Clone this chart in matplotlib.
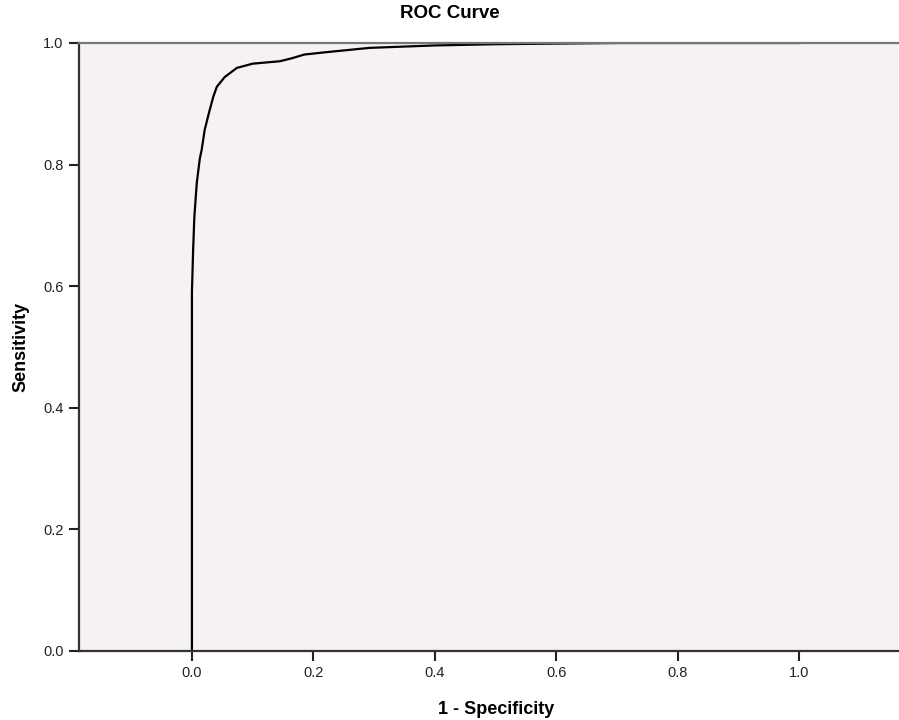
import matplotlib
matplotlib.use('Agg')
import matplotlib.pyplot as plt

# ---------------------------------------------------------------------------
# Data
# ---------------------------------------------------------------------------

fpr = [0.0, 0.0, 0.002, 0.004, 0.008, 0.013, 0.016, 0.021, 0.028, 0.035,
       0.041, 0.054, 0.074, 0.100, 0.145, 0.165, 0.185, 0.222, 0.293, 0.400,
       0.500, 0.700, 1.000]
tpr = [0.0, 0.59, 0.66, 0.714, 0.77, 0.81, 0.824, 0.857, 0.885, 0.911,
       0.928, 0.944, 0.959, 0.966, 0.970, 0.975, 0.981, 0.985, 0.992, 0.996,
       0.998, 1.000, 1.000]

x_ticks = [0.0, 0.2, 0.4, 0.6, 0.8, 1.0]
y_ticks = [0.0, 0.2, 0.4, 0.6, 0.8, 1.0]

BG = '#F5F1F5'
FONT = 'Liberation Sans'

plt.rcParams['font.family'] = [FONT, 'DejaVu Sans']

fig = plt.figure(figsize=(8.99, 7.2), dpi=100)
ax = fig.add_axes([79 / 899, 1 - 651 / 720, 819 / 899, 608 / 720])
ax.set_facecolor(BG)

ax.plot(fpr, tpr, color='black', linewidth=1.6, solid_joinstyle='round')

ax.set_xlim(-0.186, 1.163)
ax.set_ylim(0.0, 1.0)
ax.set_xticks(x_ticks)
ax.set_yticks(y_ticks)
ax.set_xticklabels([f"{t:.1f}" for t in x_ticks])
ax.set_yticklabels([f"{t:.1f}" for t in y_ticks])
ax.tick_params(direction='out', length=7, width=1.5, colors='#222222',
               labelsize=10.5, pad=4)

for side in ['left', 'bottom']:
    ax.spines[side].set_color('#333333')
    ax.spines[side].set_linewidth(1.6)
ax.spines['top'].set_color('#777777')
ax.spines['top'].set_linewidth(1.6)
ax.spines['right'].set_visible(False)

ax.set_xlabel("1 - Specificity", fontsize=13, fontweight='bold')
ax.xaxis.set_label_coords(0.509, -0.083)
ax.set_ylabel("Sensitivity", fontsize=13, fontweight='bold', labelpad=10)

fig.text(0.5, 1 - 13 / 720, "ROC Curve", ha='center', va='center',
         fontsize=13.5, fontweight='bold')

fig.savefig('out.png', dpi=100)
